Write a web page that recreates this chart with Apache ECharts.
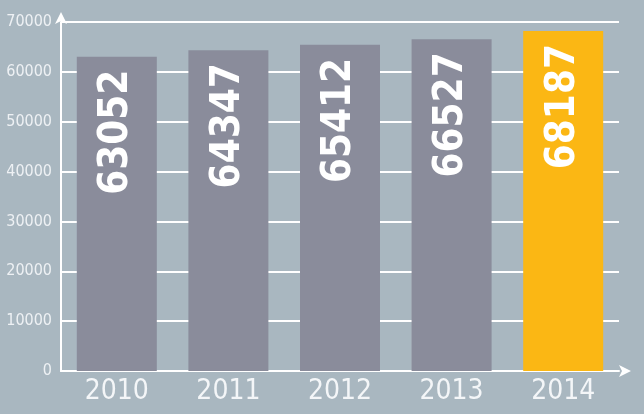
<!DOCTYPE html>
<html><head><meta charset="utf-8">
<script src="https://cdn.jsdelivr.net/npm/echarts@6/dist/echarts.min.js"></script>
<style>html,body{margin:0;padding:0;background:#a9b7c0}#c{width:644px;height:414px}</style>
</head><body><div id="c"></div>
<script>
const years = ['2010','2011','2012','2013','2014'];
const values = [63052, 64347, 65412, 66527, 68187];
const barColors = ['#8a8c9b','#8a8c9b','#8a8c9b','#8a8c9b','#fbb714'];
const yTicks = [0,10000,20000,30000,40000,50000,60000,70000];
const FAM = '"DejaVu Sans Condensed", "DejaVu Sans", sans-serif';

const chart = echarts.init(document.getElementById('c'));
chart.setOption({
  backgroundColor: '#a9b7c0',
  animation: false,
  grid: {left: 61, right: 25, top: 22, bottom: 43},
  xAxis: {
    type: 'category', data: years,
    axisTick: {show: false},
    axisLine: {lineStyle: {color: '#ffffff', width: 2}, symbol: ['none','arrow'], symbolSize: [9, 12], symbolOffset: [0, 12]},
    axisLabel: {color: '#f4f6f8', fontSize: 28, fontStyle: 'condensed', fontFamily: FAM, margin: 7}
  },
  yAxis: {
    type: 'value', min: 0, max: yTicks[yTicks.length-1], interval: 10000,
    axisTick: {show: false},
    axisLine: {show: true, lineStyle: {color: '#ffffff', width: 2}, symbol: ['none','arrow'], symbolSize: [9, 12], symbolOffset: [0, 10]},
    splitLine: {lineStyle: {color: '#ffffff', width: 2}},
    axisLabel: {color: '#eef1f4', fontSize: 16, fontStyle: 'condensed', fontFamily: FAM, margin: 9, formatter: v => String(v)}
  },
  series: [{
    type: 'bar',
    barWidth: 80,
    data: values.map((v, i) => ({value: v, itemStyle: {color: barColors[i]}})),
    label: {
      show: true, position: 'insideTop', rotate: 90, align: 'right', verticalAlign: 'middle',
      distance: 13, color: '#ffffff', fontSize: 40, fontWeight: 'bold', fontStyle: 'condensed',
      fontFamily: FAM
    }
  }]
});
</script></body></html>
